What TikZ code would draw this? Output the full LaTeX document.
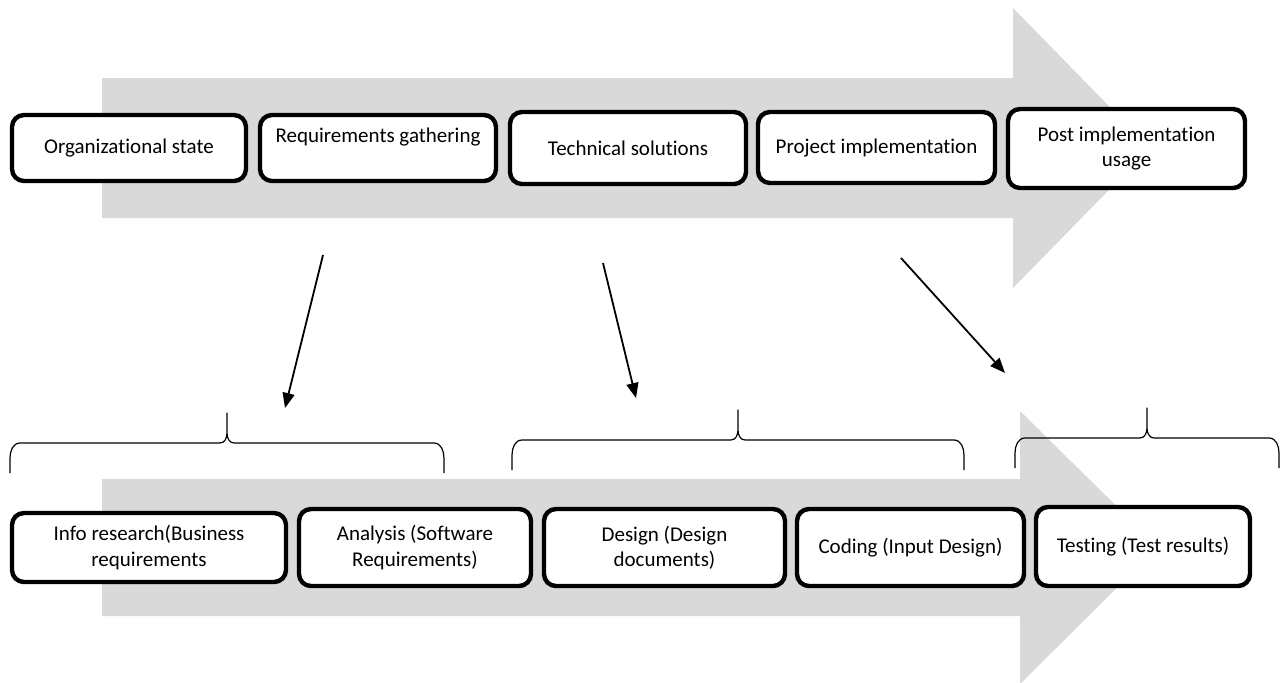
\documentclass[tikz,border=0pt]{standalone}
\usepackage{fontspec}
\setmainfont{Carlito}[Ligatures=NoCommon]
\usepackage{tikz}
\usetikzlibrary{arrows.meta,positioning}
\definecolor{flowGray}{RGB}{217,217,217}

% brace over a group: left x, right x, foot y, tip x
\newcommand{\groupbrace}[4]{%
  \draw[bracket] (#1,#3) -- (#1,#3-15) to[out=90,in=180] (#1+10,#3-30)
    -- (#4-7,#3-30) to[out=0,in=-90] (#4,#3-40) -- (#4,#3-60)
    -- (#4,#3-40) to[out=-90,in=180] (#4+7,#3-30)
    -- (#2-10,#3-30) to[out=0,in=90] (#2,#3-15) -- (#2,#3);}

\begin{document}
\begin{tikzpicture}[x=0.5pt, y=-0.5pt,
    stage/.style={draw=black, fill=white, line width=2.2pt, rounded corners=6pt,
      align=center, inner sep=2pt, font=\fontsize{10.5}{12.6}\selectfont},
    flow/.style={fill=flowGray, draw=none},
    bracket/.style={line width=0.6pt, line join=round},
    link/.style={line width=0.9pt, -{Triangle[length=7.5pt,width=6pt]}}
  ]
  \useasboundingbox (0,0) rectangle (1280,682);

  % big grey arrows behind the two rows
  \fill[flow] (102,78) -- (1013,78) -- (1013,8) -- (1150,148) -- (1013,288)
    -- (1013,218) -- (102,218) -- cycle;
  \fill[flow] (102,479) -- (1020,479) -- (1020,411) -- (1158,547) -- (1020,684)
    -- (1020,616) -- (102,616) -- cycle;

  % top row
  \node[stage, minimum width=117pt, minimum height=33pt] (org) at (129,148) {Organizational state};
  \node[stage, minimum width=118pt, minimum height=33pt] (req) at (378,148) {Requirements gathering\\{}};
  \node[stage, minimum width=118pt, minimum height=36pt] (tech) at (628,148) {Technical solutions};
  \node[stage, minimum width=118.5pt, minimum height=35.5pt] (impl) at (876.5,147.5) {Project implementation};
  \node[stage, minimum width=118.5pt, minimum height=39.5pt] (post) at (1126.5,148.5) {Post implementation\\usage};

  % bottom row
  \node[stage, minimum width=137pt, minimum height=34.5pt] (info) at (149,547.5) {Info research(Business\\requirements};
  \node[stage, minimum width=116pt, minimum height=38.5pt] (analysis) at (415,547.5) {Analysis (Software\\Requirements)};
  \node[stage, minimum width=120.5pt, minimum height=38.5pt] (design) at (664.5,547.5) {Design (Design\\documents)};
  \node[stage, minimum width=113.5pt, minimum height=38.5pt] (coding) at (910.5,547.5) {Coding (Input Design)};
  \node[stage, minimum width=107pt, minimum height=39.5pt] (testing) at (1143,546.5) {Testing (Test results)};

  % braces over the bottom groups
  \groupbrace{10}{444}{473}{227}
  \groupbrace{512}{964}{470}{738}
  \groupbrace{1015}{1279}{468}{1147}

  \coordinate (reqOut) at (323,255);
  \coordinate (reqIn) at (285,408);
  \coordinate (techOut) at (603,263);
  \coordinate (techIn) at (636,398);
  \coordinate (implOut) at (901,258);
  \coordinate (implIn) at (1005,373);
  \draw[link] (reqOut) -- (reqIn);
  \draw[link] (techOut) -- (techIn);
  \draw[link] (implOut) -- (implIn);
\end{tikzpicture}
\end{document}
